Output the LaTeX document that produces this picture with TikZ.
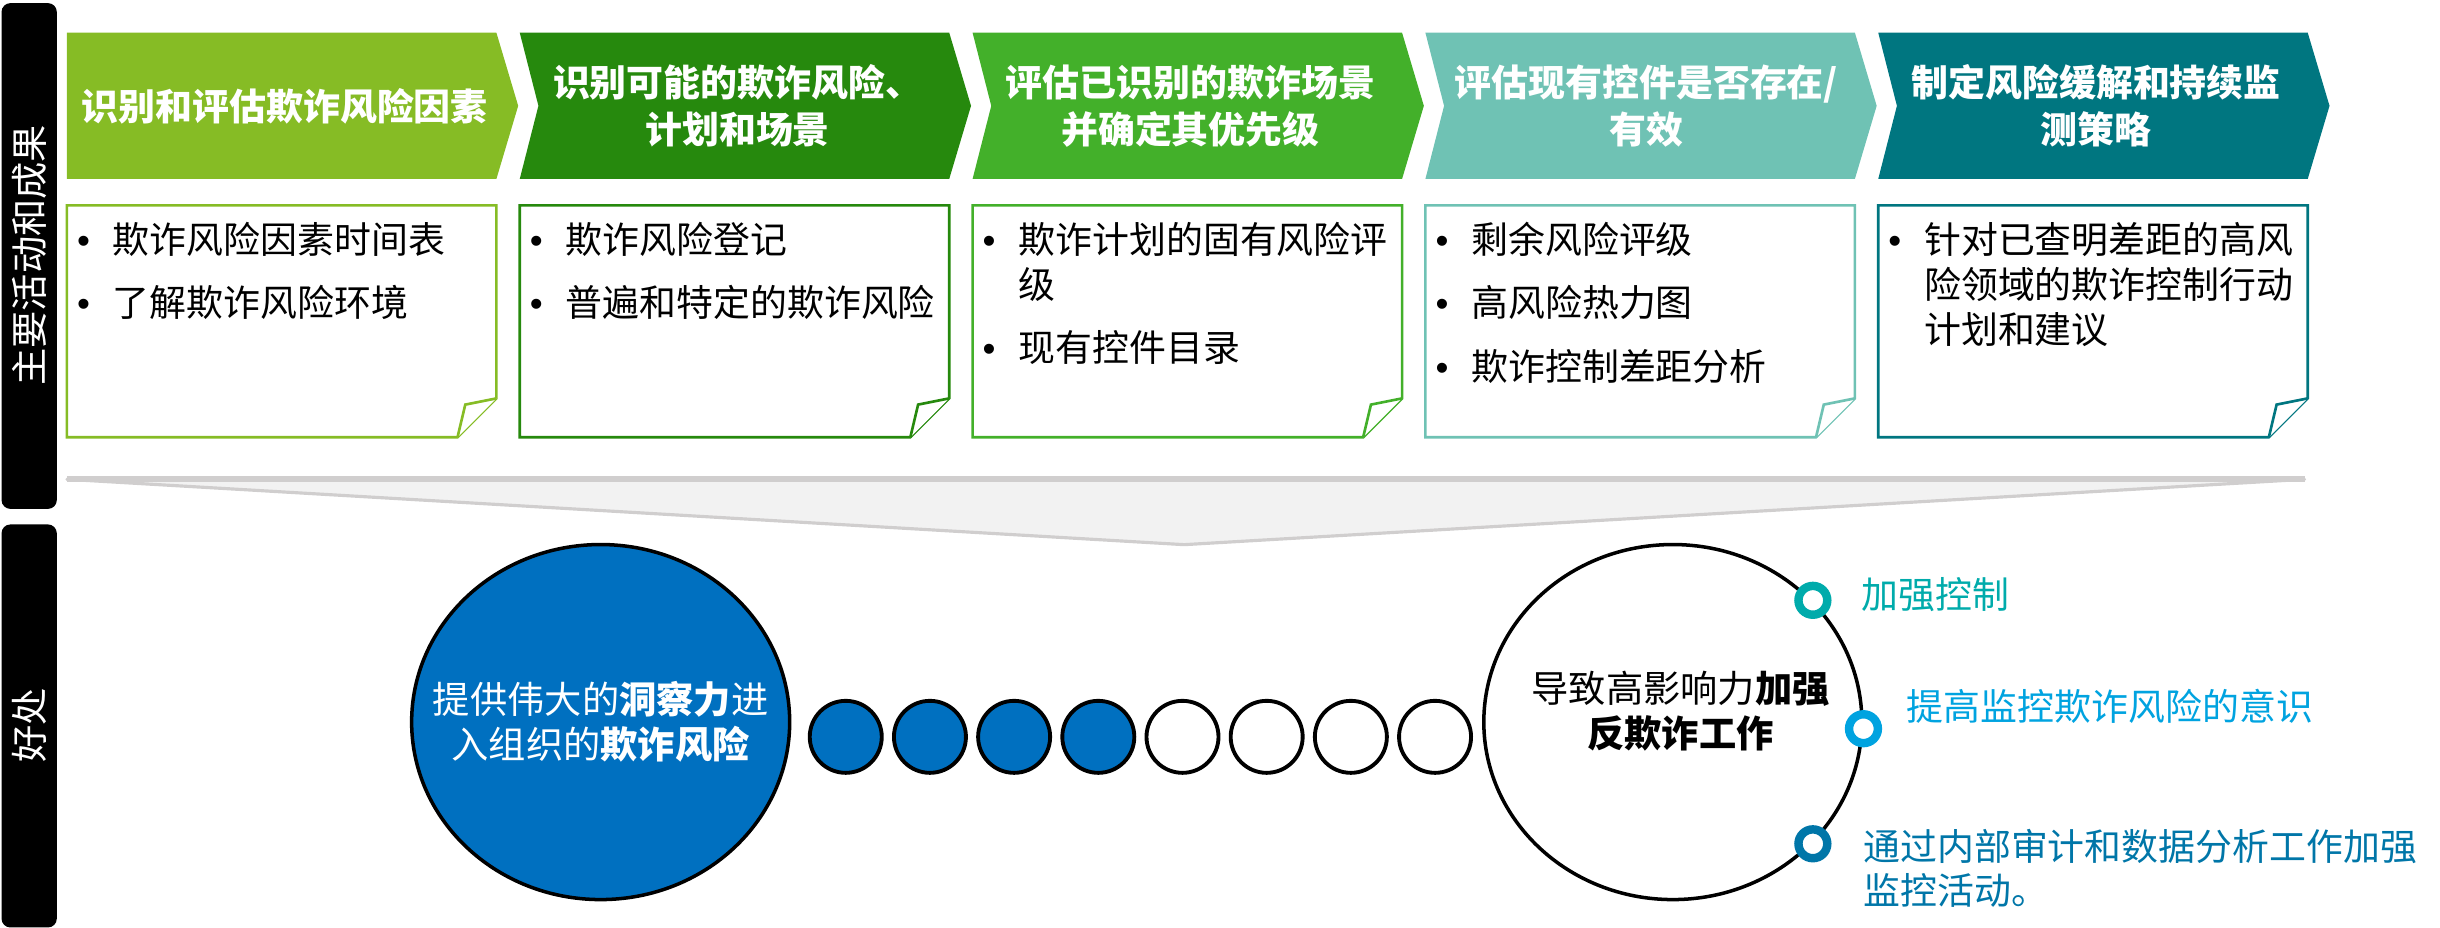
\documentclass[tikz,border=0pt]{standalone}
\usepackage{fontspec}
\setmainfont{Noto Sans CJK SC}
\newfontfamily\latin{Liberation Sans}
\usetikzlibrary{shapes.geometric}
\definecolor{gA}{HTML}{86BC25}
\definecolor{gB}{HTML}{26890D}
\definecolor{gC}{HTML}{43B02A}
\definecolor{tA}{HTML}{6FC2B4}
\definecolor{tB}{HTML}{007680}
\definecolor{dblue}{HTML}{0070C0}
\definecolor{rA}{HTML}{00ABAB}
\definecolor{rB}{HTML}{00A3E0}
\definecolor{rC}{HTML}{0076A8}
\definecolor{fungray}{HTML}{F2F2F2}
\definecolor{funline}{HTML}{D0CECE}
\newcommand{\bul}{\hspace{1.8pt}{\latin •}}

\begin{document}
\begin{tikzpicture}[x=0.1556mm, y=-0.1556mm]
 \tikzstyle{bar}=[fill=black, rounded corners=2.5pt]
 \tikzstyle{sidelab}=[rotate=90, text=white, font=\fontsize{10.6pt}{12pt}\selectfont]
 \tikzstyle{chevtxt}=[text=white, align=center, inner sep=0, font=\bfseries\fontsize{10.5pt}{13.3pt}\selectfont]
 \tikzstyle{note}=[line width=0.75pt, fill=white]
 \tikzstyle{notetxt}=[anchor=north west, inner sep=0, font=\fontsize{10.5pt}{12.8pt}\selectfont]
 \tikzstyle{bigc}=[ellipse, draw=black, line width=1pt, minimum width=3.78cm, minimum height=3.55cm, inner sep=0]
 \tikzstyle{smallc}=[ellipse, draw=black, line width=1.1pt, minimum width=0.72cm, minimum height=0.72cm, inner sep=0]
 \tikzstyle{ctxt}=[align=center, inner sep=0, font=\fontsize{10.6pt}{12.8pt}\selectfont]
 \tikzstyle{ring}=[circle, fill=white, line width=2.4pt, minimum size=8.2pt, inner sep=0]
 \tikzstyle{gain}=[anchor=west, align=left, inner sep=0, font=\fontsize{10.5pt}{12.4pt}\selectfont]
 \useasboundingbox (0,0) rectangle (1568,596);
 %
 \fill[bar] (1,2) rectangle (36.5,327);
 \fill[bar] (1,337) rectangle (36.5,596);
 \node[sidelab] (main) at (19,164) {主要活动和成果};
 \node[sidelab] (gain) at (19,466) {好处};
 %
 \fill[gA] (43,21) -- (319,21) -- (333,68) -- (319,115) -- (43,115) -- cycle;
 \fill[gB] (334,21) -- (610,21) -- (624,68) -- (610,115) -- (334,115) -- (346,68) -- cycle;
 \fill[gC] (625,21) -- (901,21) -- (915,68) -- (901,115) -- (625,115) -- (637,68) -- cycle;
 \fill[tA] (916,21) -- (1192,21) -- (1206,68) -- (1192,115) -- (916,115) -- (928,68) -- cycle;
 \fill[tB] (1207,21) -- (1483,21) -- (1497,68) -- (1483,115) -- (1207,115) -- (1219,68) -- cycle;
 \node[chevtxt] (c1) at (183,68) {识别和评估欺诈风险因素};
 \node[chevtxt] (c2) at (474,68) {识别可能的欺诈风险、\\计划和场景};
 \node[chevtxt] (c3) at (765,68) {评估已识别的欺诈场景\\并确定其优先级};
 \node[chevtxt] (c4) at (1058,68) {评估现有控件是否存在/\\有效};
 \node[chevtxt] (c5) at (1347,68) {制定风险缓解和持续监\\测策略};
 %
 \draw[note, draw=gA] (43,132) -- (319,132) -- (319,256) -- (294,281) -- (43,281) -- cycle;
 \draw[note, draw=gA] (319,256) -- (299,260) -- (294,281);
 \draw[note, draw=gB] (334,132) -- (610,132) -- (610,256) -- (585,281) -- (334,281) -- cycle;
 \draw[note, draw=gB] (610,256) -- (590,260) -- (585,281);
 \draw[note, draw=gC] (625,132) -- (901,132) -- (901,256) -- (876,281) -- (625,281) -- cycle;
 \draw[note, draw=gC] (901,256) -- (881,260) -- (876,281);
 \draw[note, draw=tA] (916,132) -- (1192,132) -- (1192,256) -- (1167,281) -- (916,281) -- cycle;
 \draw[note, draw=tA] (1192,256) -- (1172,260) -- (1167,281);
 \draw[note, draw=tB] (1207,132) -- (1483,132) -- (1483,256) -- (1458,281) -- (1207,281) -- cycle;
 \draw[note, draw=tB] (1483,256) -- (1463,260) -- (1458,281);
 %
 \node[notetxt] (b1) at (45,142) {\begin{tabular}{@{}p{12pt}@{}l@{}}
  \bul & 欺诈风险因素时间表\\[5.3pt]
  \bul & 了解欺诈风险环境\end{tabular}};
 \node[notetxt] (b2) at (336,142) {\begin{tabular}{@{}p{12pt}@{}l@{}}
  \bul & 欺诈风险登记\\[5.3pt]
  \bul & 普遍和特定的欺诈风险\end{tabular}};
 \node[notetxt] (b3) at (627,142) {\begin{tabular}{@{}p{12pt}@{}l@{}}
  \bul & 欺诈计划的固有风险评\\
       & 级\\[5.3pt]
  \bul & 现有控件目录\end{tabular}};
 \node[notetxt] (b4) at (918,142) {\begin{tabular}{@{}p{12pt}@{}l@{}}
  \bul & 剩余风险评级\\[5.3pt]
  \bul & 高风险热力图\\[5.3pt]
  \bul & 欺诈控制差距分析\end{tabular}};
 \node[notetxt] (b5) at (1209,142) {\begin{tabular}{@{}p{12pt}@{}l@{}}
  \bul & 针对已查明差距的高风\\
       & 险领域的欺诈控制行动\\
       & 计划和建议\end{tabular}};
 %
 \filldraw[fill=fungray, draw=funline, line width=0.9pt, line join=round] (43,308) -- (1481,308) -- (761,350) -- cycle;
 \draw[funline, line width=1.6pt] (43,308) -- (1481,308);
 %
 \node[bigc, fill=dblue] (insight) at (386,464) {};
 \node[ctxt, text=white] (insightT) at (insight.center) {提供伟大的\textbf{洞察力}进\\入组织的\textbf{欺诈风险}};
 \node[smallc, fill=dblue] (s1) at (543.5,473.5) {};
 \node[smallc, fill=dblue] (s2) at (597.6,473.5) {};
 \node[smallc, fill=dblue] (s3) at (651.7,473.5) {};
 \node[smallc, fill=dblue] (s4) at (705.8,473.5) {};
 \node[smallc, fill=white] (s5) at (759.9,473.5) {};
 \node[smallc, fill=white] (s6) at (814,473.5) {};
 \node[smallc, fill=white] (s7) at (868.1,473.5) {};
 \node[smallc, fill=white] (s8) at (922.2,473.5) {};
 \node[bigc, fill=white] (impact) at (1075,464) {};
 \node[ctxt] (impactT) at (1080,457) {导致高影响力\textbf{加强}\\\textbf{反欺诈工作}};
 %
 \node[ring, draw=rA] (r1) at (impact.41) {};
 \node[ring, draw=rB] (r2) at (impact.-2) {};
 \node[ring, draw=rC] (r3) at (impact.-41) {};
 \node[gain, text=rA] (g1) at (1196,382) {加强控制};
 \node[gain, text=rB] (g2) at (1225,454) {提高监控欺诈风险的意识};
 \node[gain, text=rC] (g3) at (1197,558) {通过内部审计和数据分析工作加强\\监控活动。};
\end{tikzpicture}
\end{document}
